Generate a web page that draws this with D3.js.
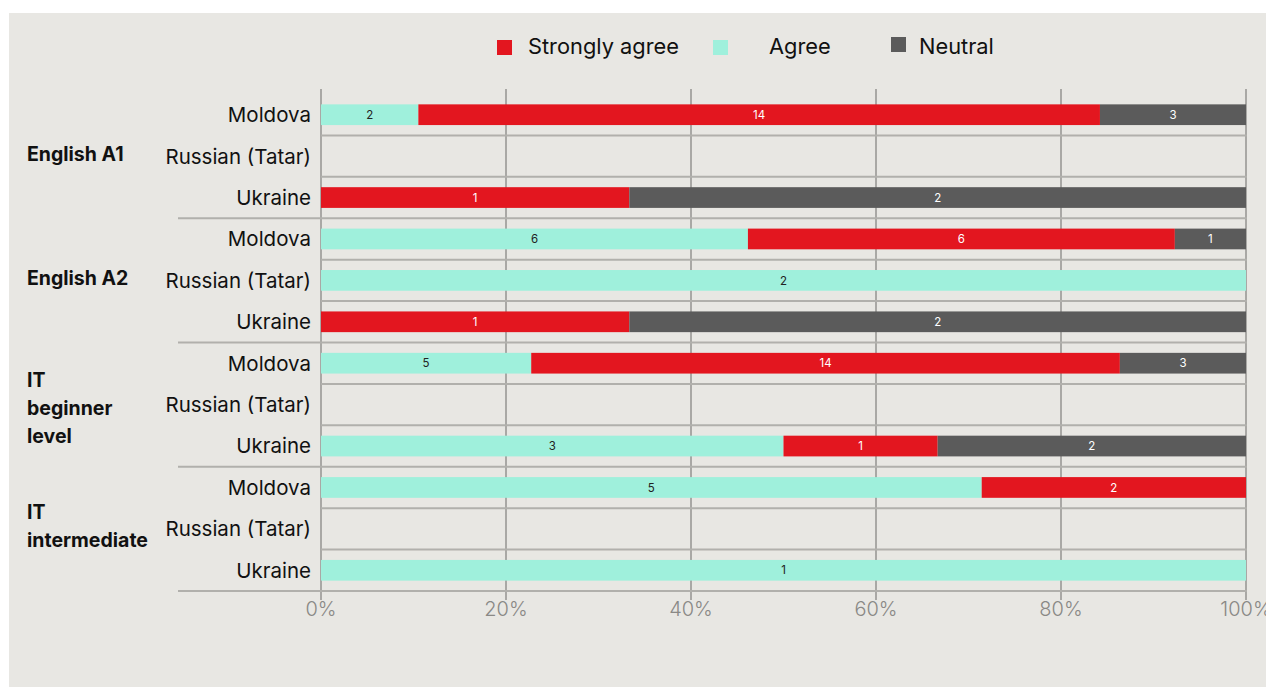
<!DOCTYPE html>
<html>
<head>
<meta charset="utf-8">
<script src="https://cdn.jsdelivr.net/npm/d3@7"></script>
<style>
  html, body { margin: 0; padding: 0; background: #ffffff; }
  svg { display: block; }
</style>
</head>
<body>
<svg id="chart" width="1266" height="687"></svg>
<script>
// Course groups and the countries listed under each
const groups = ["English A1", "English A2", "IT beginner level", "IT intermediate"];
const groupLines = [["English A1"], ["English A2"], ["IT", "beginner", "level"], ["IT", "intermediate"]];
const countries = ["Moldova", "Russian (Tatar)", "Ukraine"];

// Response counts per row (group × country), in row order
const agree         = [2, 0, 0,  6, 2, 0,  5, 0, 3,  5, 0, 1];
const stronglyAgree = [14, 0, 1, 6, 0, 1,  14, 0, 1, 2, 0, 0];
const neutral       = [3, 0, 2,  1, 0, 2,  3, 0, 2,  0, 0, 0];

const seriesNames = ["Agree", "Strongly agree", "Neutral"];
const legendOrder = ["Strongly agree", "Agree", "Neutral"];
const tickValues = [0, 0.2, 0.4, 0.6, 0.8, 1];

const colors = { "Strongly agree": "#e3161f", "Agree": "#9ff0dc", "Neutral": "#5b5b5b" };
const labelColors = { "Strongly agree": "#ffffff", "Agree": "#222222", "Neutral": "#ffffff" };

const rows = [];
groups.forEach((g, gi) => countries.forEach((c, ci) => {
  const i = gi * 3 + ci;
  rows.push({ id: i, gi, ci, group: g, country: c,
    "Agree": agree[i], "Strongly agree": stronglyAgree[i], "Neutral": neutral[i] });
}));

const svg = d3.select("#chart");
const font = "Inter, 'Noto Sans', sans-serif";

svg.append("rect").attr("x", 9).attr("y", 13).attr("width", 1257).attr("height", 674)
  .attr("fill", "#e8e7e3");

const x = d3.scaleLinear().domain([0, 1]).range([321, 1246]);
// Groups split the vertical space; countries are banded inside each group
const gy = d3.scaleBand().domain(d3.range(groups.length)).range([94, 591]);
const cy = d3.scaleBand().domain(d3.range(countries.length)).range([0, gy.bandwidth()])
  .paddingInner(0.5).paddingOuter(0.25);
const rowY = r => gy(r.gi) + cy(r.ci);
const bh = cy.bandwidth();

// Vertical gridlines with short ticks below the axis
svg.append("g").selectAll("line").data(tickValues).join("line")
  .attr("x1", d => x(d)).attr("x2", d => x(d))
  .attr("y1", 89).attr("y2", 600)
  .attr("stroke", "#a9a8a5").attr("stroke-width", 2);

// Row separators inside each group
const inner = [];
groups.forEach((g, gi) => [1, 2].forEach(ci => inner.push(gy(gi) + cy(ci) - cy.step() * cy.paddingInner() / 2)));
svg.append("g").selectAll("line").data(inner).join("line")
  .attr("x1", 321).attr("x2", 1247).attr("y1", d => d).attr("y2", d => d)
  .attr("stroke", "#b1b0ac").attr("stroke-width", 2);

// Group separators and the baseline, reaching under the group labels
svg.append("g").selectAll("line").data(d3.range(1, groups.length + 1)).join("line")
  .attr("x1", 178).attr("x2", 1247)
  .attr("y1", d => gy(d - 1) + gy.bandwidth()).attr("y2", d => gy(d - 1) + gy.bandwidth())
  .attr("stroke", "#b1b0ac").attr("stroke-width", 2);

// Normalised stacks
const stackData = rows.map(r => {
  const total = seriesNames.reduce((s, k) => s + r[k], 0) || 1;
  const o = { id: r.id };
  seriesNames.forEach(k => o[k] = r[k] / total);
  return o;
});
const stacked = d3.stack().keys(seriesNames)(stackData);

const layer = svg.append("g").selectAll("g").data(stacked).join("g")
  .attr("fill", s => colors[s.key]);

layer.selectAll("rect").data(s => s.map(d => ({ s: s.key, d })).filter(o => o.d[1] > o.d[0])).join("rect")
  .attr("x", o => x(o.d[0]))
  .attr("width", o => x(o.d[1]) - x(o.d[0]))
  .attr("y", o => rowY(rows[o.d.data.id]))
  .attr("height", bh);

// Count labels centred in each segment
svg.append("g").selectAll("g").data(stacked).join("g")
  .selectAll("text").data(s => s.map(d => ({ s: s.key, d })).filter(o => o.d[1] > o.d[0])).join("text")
  .attr("x", o => (x(o.d[0]) + x(o.d[1])) / 2)
  .attr("y", o => rowY(rows[o.d.data.id]) + bh / 2)
  .attr("dy", "0.36em")
  .attr("text-anchor", "middle")
  .attr("font-family", font).attr("font-size", 11.5)
  .attr("fill", o => labelColors[o.s])
  .text(o => rows[o.d.data.id][o.s]);

// Country labels
svg.append("g").selectAll("text").data(rows).join("text")
  .attr("x", 311).attr("y", r => rowY(r) + bh / 2).attr("dy", "0.36em")
  .attr("text-anchor", "end")
  .attr("font-family", font).attr("font-size", 20.5).attr("fill", "#111")
  .text(r => r.country);

// Group labels
const glabel = svg.append("g").selectAll("text").data(groupLines).join("text")
  .attr("font-family", font).attr("font-size", 19.5).attr("font-weight", 700).attr("fill", "#111");
glabel.each(function(lines, gi) {
  const mid = gy(gi) + cy(1) + bh / 2 + (lines.length === 3 ? 3 : lines.length === 2 ? -3 : -2);
  const lh = 28;
  const t = d3.select(this);
  lines.forEach((l, li) => {
    t.append("tspan").attr("x", 27)
      .attr("y", mid + (li - (lines.length - 1) / 2) * lh).attr("dy", "0.36em").text(l);
  });
});

// Axis tick labels
svg.append("g").selectAll("text").data(tickValues).join("text")
  .attr("x", d => x(d)).attr("y", 616)
  .attr("text-anchor", "middle")
  .attr("font-family", font).attr("font-size", 20).attr("font-weight", 300).attr("fill", "#8a8986")
  .text(d => d3.format(".0%")(d));

// Legend
const legendX = { "Strongly agree": 497, "Agree": 713, "Neutral": 891 };
const legendTextX = { "Strongly agree": 528, "Agree": 769, "Neutral": 919 };
const legendY = { "Strongly agree": 40, "Agree": 40, "Neutral": 37 };
const lg = svg.append("g").selectAll("g").data(legendOrder).join("g");
lg.append("rect").attr("x", d => legendX[d]).attr("y", d => legendY[d])
  .attr("width", 15).attr("height", 15).attr("fill", d => colors[d]);
lg.append("text").attr("x", d => legendTextX[d]).attr("y", 46).attr("dy", "0.36em")
  .attr("font-family", font).attr("font-size", 21.8).attr("fill", "#111")
  .text(d => d);
</script>
</body>
</html>
